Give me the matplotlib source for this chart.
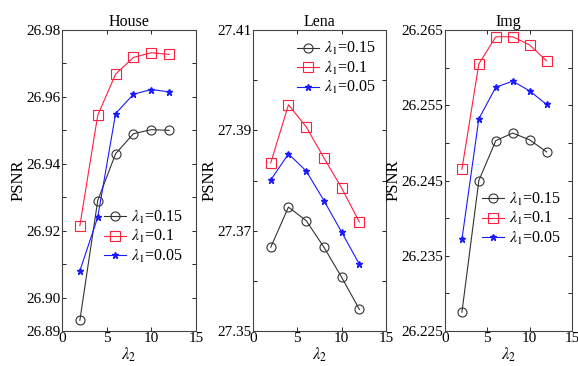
import matplotlib
matplotlib.use("Agg")
import matplotlib.pyplot as plt
import numpy as np

plt.rcParams['font.family'] = ['Liberation Serif', 'DejaVu Serif']
plt.rcParams['mathtext.fontset'] = 'stix'

# ===== ДАННЫЕ =====
lam2 = [2, 4, 6, 8, 10, 12]
labels = [r'$\lambda_1$=0.15', r'$\lambda_1$=0.1', r'$\lambda_1$=0.05']

house_015 = [26.8932, 26.9290, 26.9430, 26.9490, 26.9502, 26.9500]
house_01 = [26.9215, 26.9545, 26.9668, 26.9718, 26.9732, 26.9727]
house_005 = [26.9080, 26.9240, 26.9550, 26.9608, 26.9622, 26.9615]

lena_015 = [27.3667, 27.3747, 27.3720, 27.3667, 27.3607, 27.3543]
lena_01 = [27.3835, 27.3951, 27.3907, 27.3845, 27.3785, 27.3717]
lena_005 = [27.3801, 27.3853, 27.3819, 27.3760, 27.3697, 27.3633]

img_015 = [26.2275, 26.2450, 26.2503, 26.2513, 26.2504, 26.2488]
img_01 = [26.2465, 26.2605, 26.2641, 26.2641, 26.2630, 26.2609]
img_005 = [26.2372, 26.2532, 26.2574, 26.2582, 26.2569, 26.2551]

titles = ["House", "Lena", "Img"]
ylims = [(26.89, 26.98), (27.35, 27.41), (26.225, 26.265)]
yticks = [np.round(np.arange(26.89, 26.9801, 0.01), 3),
          np.round(np.arange(27.35, 27.4101, 0.01), 3),
          np.round(np.arange(26.225, 26.2651, 0.005), 3)]
ylabels = [["26.89", "26.90", "", "26.92", "", "26.94", "", "26.96", "", "26.98"],
           ["27.35", "", "27.37", "", "27.39", "", "27.41"],
           ["26.225", "", "26.235", "", "26.245", "", "26.255", "", "26.265"]]
legend_loc = [(0.31, 0.22), (0.33, 0.78), (0.29, 0.28)]

data = [(house_015, house_01, house_005),
        (lena_015, lena_01, lena_005),
        (img_015, img_01, img_005)]

# положение осей в пикселях исходной картинки
boxes = [(62, 196), (253, 386), (445, 572)]

fig = plt.figure(figsize=(5.78, 3.66), dpi=100)
W, H = 578, 366
top, bottom = 30, 331

for i in range(3):
     l, r = boxes[i]
     ax = fig.add_axes([l / W, 1 - bottom / H, (r - l) / W, (bottom - top) / H])
     s015, s01, s005 = data[i]
     ax.plot(lam2, s015, color='#333333', lw=0.8, marker='o', ms=6.5, mfc='none', mew=0.8, label=labels[0])
     ax.plot(lam2, s01, color='#ff2040', lw=0.8, marker='s', ms=6.5, mfc='none', mew=0.8, label=labels[1])
     ax.plot(lam2, s005, color='#1a1aff', lw=0.8, marker='*', ms=5, label=labels[2])
     ax.set_xlim(0, 15)
     ax.set_ylim(*ylims[i])
     ax.set_xticks([0, 5, 10, 15])
     ax.set_yticks(yticks[i])
     ax.set_yticklabels(ylabels[i])
     ax.tick_params(direction='in', top=True, right=True, labelsize=11, length=3, width=0.6, pad=1)
     for sp in ax.spines.values():
          sp.set_linewidth(0.8)
          sp.set_color('#444444')
     ax.set_title(titles[i], fontsize=11.5, pad=3)
     ax.set_ylabel("PSNR", fontsize=12, labelpad=0)
     ax.set_xlabel(r'$\lambda_2$', fontsize=12, labelpad=0)
     ax.legend(loc='lower left', bbox_to_anchor=legend_loc[i], frameon=False, fontsize=11.5,
               handlelength=1.4, handletextpad=0.3, labelspacing=0.15, borderaxespad=0, borderpad=0)

fig.savefig("out.png", dpi=100)
